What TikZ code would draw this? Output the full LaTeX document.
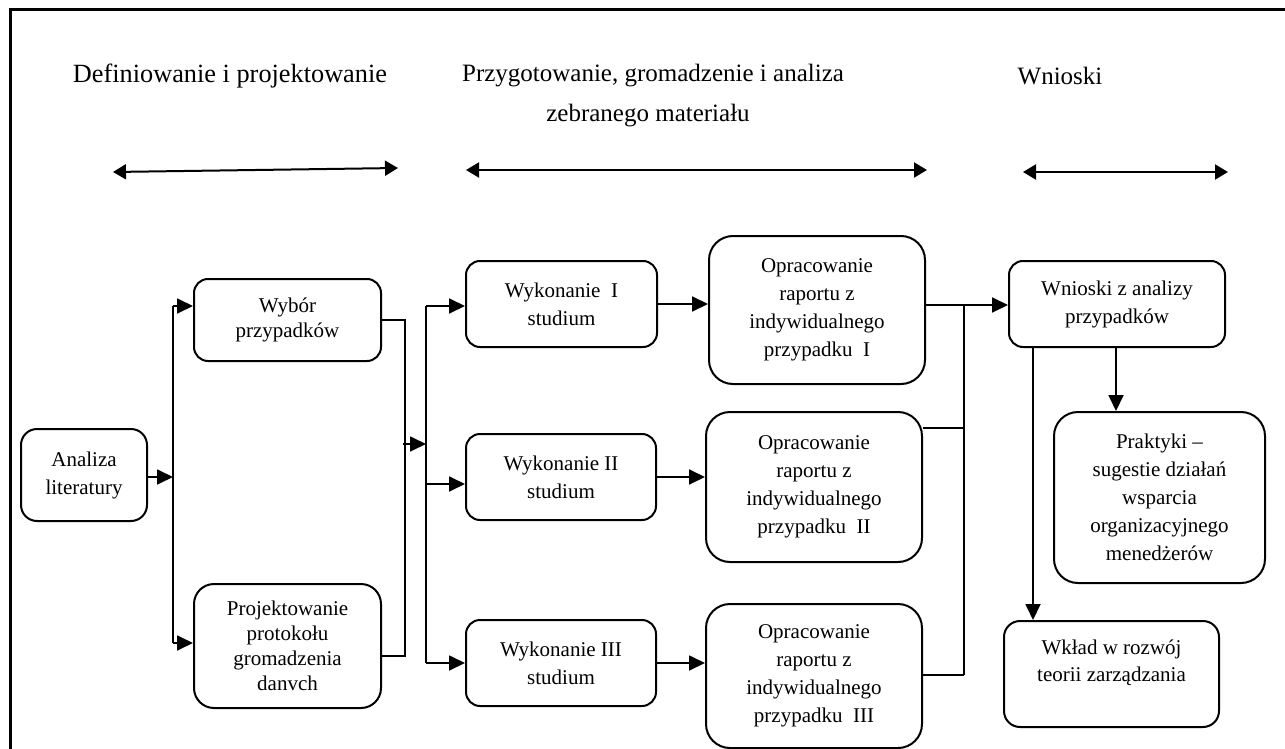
\documentclass[tikz,border=0pt]{standalone}
\usepackage{fontspec}
\setmainfont{Liberation Serif}
\usetikzlibrary{arrows.meta}
\begin{document}
\begin{tikzpicture}[x=1pt,y=-1pt,
  box/.style={draw, line width=2pt, rounded corners=#1, align=center, inner sep=0pt,
    font=\fontsize{21}{28}\selectfont},
  box/.default=14pt,
  tight/.style={font=\fontsize{21}{25}\selectfont},
  conn/.style={line width=1.8pt},
  arr/.style={conn, -{Triangle[length=16pt,width=15pt]}},
  hdr/.style={font=\fontsize{25}{30}\selectfont},
  dbl/.style={line width=2pt, {Triangle[length=13pt,width=15pt]}-{Triangle[length=13pt,width=15pt]}}
]
\useasboundingbox (0,0) rectangle (1285,749);
% frame
\draw[line width=3pt] (1285,10) -- (10,10) -- (10,749);

% headers
\node[hdr, font=\fontsize{26.3}{30}\selectfont] (t1) at (230,76) {Definiowanie i projektowanie};
\node[hdr] (t2) at (653,76) {Przygotowanie, gromadzenie i analiza};
\node[hdr] (t3) at (648,116) {zebranego materiału};
\node[hdr] (t4) at (1060,76) {Wnioski};

\coordinate (h1l) at (113,172); \coordinate (h1r) at (398,168);
\coordinate (h2l) at (466,170); \coordinate (h2r) at (927,170);
\coordinate (h3l) at (1023,172); \coordinate (h3r) at (1228,172);
\draw[dbl] (h1l) -- (h1r);
\draw[dbl] (h2l) -- (h2r);
\draw[dbl] (h3l) -- (h3r);

% boxes
\node[box=16pt, minimum width=126pt, minimum height=92pt] (lit) at (84,475) {Analiza\\literatury};
\node[box, tight, minimum width=187pt, minimum height=82pt] (wyb) at (287.5,320) {Wybór\\przypadków};
\node[box=20pt, tight, minimum width=187pt, minimum height=124pt] (proj) at (287.5,646) {Projektowanie\\protokołu\\gromadzenia\\danvch};

\node[box, minimum width=191pt, minimum height=86pt] (wyk1) at (561.5,304) {Wykonanie~~I\\studium};
\node[box, minimum width=190pt, minimum height=86pt] (wyk2) at (561,477) {Wykonanie II\\studium};
\node[box, minimum width=190pt, minimum height=86pt] (wyk3) at (561,663) {Wykonanie III\\studium};

\node[box=24pt, minimum width=216pt, minimum height=148pt] (op1) at (817,310) {Opracowanie\\raportu z\\indywidualnego\\przypadku~~I};
\node[box=24pt, minimum width=216pt, minimum height=150pt] (op2) at (814,487) {Opracowanie\\raportu z\\indywidualnego\\przypadku~~II};
\node[box=24pt, minimum width=216pt, minimum height=144pt] (op3) at (814,676) {Opracowanie\\raportu z\\indywidualnego\\przypadku~~III};

\node[box, minimum width=216pt, minimum height=86pt] (wn) at (1117,304) {Wnioski z analizy\\przypadków};
\node[box=24pt, minimum width=211pt, minimum height=171pt] (prak) at (1159.5,497.5) {Praktyki –\\sugestie działań\\wsparcia\\organizacyjnego\\menedżerów};
\node[box=16pt, minimum width=215pt, minimum height=106pt, font=\fontsize{21}{27}\selectfont] (wk) at (1111.5,674) {Wkład w rozwój\\teorii zarządzania\\\mbox{}};

% connectors, left part
\coordinate (j1) at (173,477);
\coordinate (a1) at (173,306);
\coordinate (a2) at (173,643);
\draw[arr] (lit.east |- j1) -- (j1);
\draw[conn] (a1) -- (a2);
\draw[arr] (a1) -- (a1 -| wyb.west);
\draw[arr] (a2) -- (a2 -| proj.west);

\coordinate (b1) at (405,320);
\coordinate (b2) at (405,656);
\draw[conn] (b1 -| wyb.east) -- (b1) -- (b2) -- (b2 -| proj.east);
\coordinate (bm) at (403,444);
\coordinate (c0) at (426,444);
\draw[arr] (bm) -- (c0);

\coordinate (c1) at (426,306);
\coordinate (c2) at (426,484);
\coordinate (c3) at (426,663);
\draw[conn] (c1) -- (c3);
\draw[arr] (c1) -- (c1 -| wyk1.west);
\draw[arr] (c2) -- (c2 -| wyk2.west);
\draw[arr] (c3) -- (c3 -| wyk3.west);

\draw[arr] (wyk1.east) -- (wyk1.east -| op1.west);
\draw[arr] (wyk2.east) -- (wyk2.east -| op2.west);
\draw[arr] (wyk3.east) -- (wyk3.east -| op3.west);

% right part
\coordinate (d1) at (964,305);
\coordinate (d2) at (964,428);
\coordinate (d3) at (964,675);
\draw[arr] (d1 -| op1.east) -- (d1 -| wn.west);
\draw[conn] (d1) -- (d3);
\draw[conn] (d2 -| op2.east) -- (d2);
\draw[conn] (d3 -| op3.east) -- (d3);

\coordinate (e1) at (1116,0);
\coordinate (e2) at (1033,0);
\draw[arr] (wn.south -| e1) -- (prak.north -| e1);
\draw[arr] (wn.south -| e2) -- (wk.north -| e2);
\end{tikzpicture}
\end{document}
